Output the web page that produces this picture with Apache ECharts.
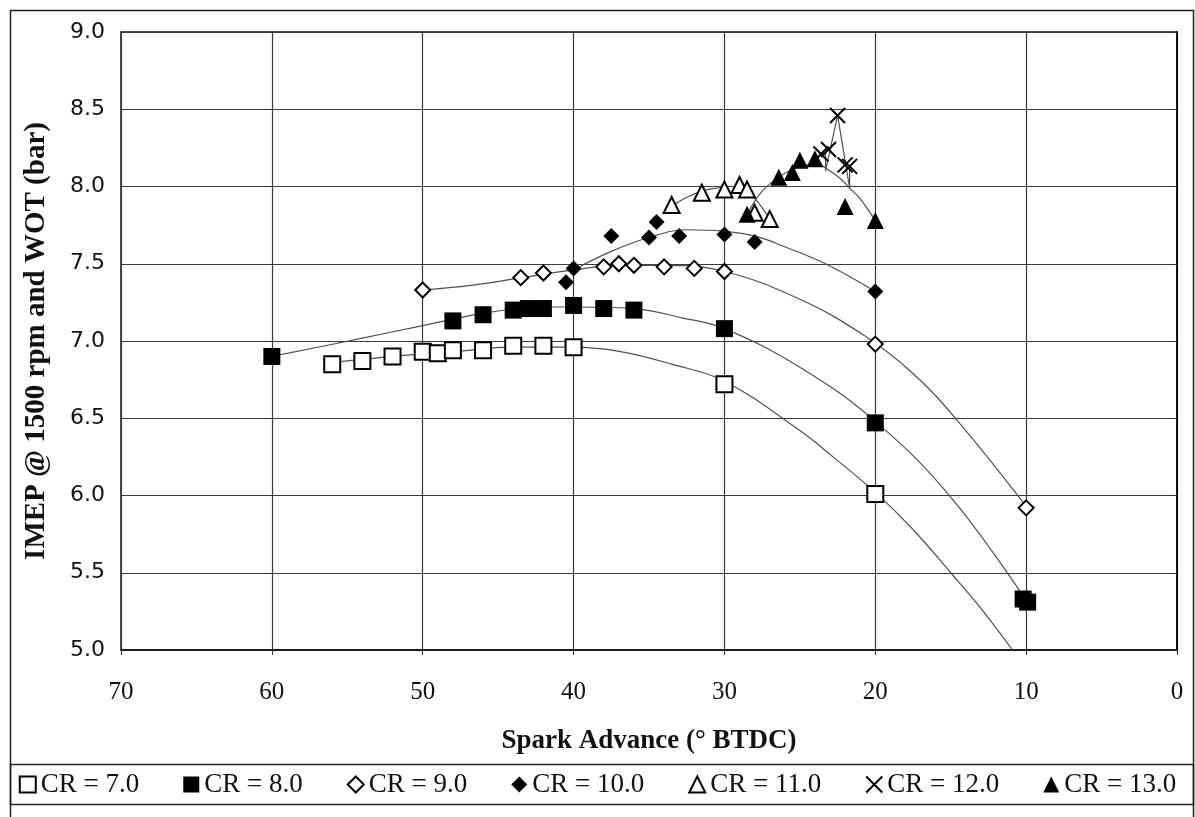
<!DOCTYPE html>
<html>
<head>
<meta charset="utf-8">
<title>IMEP vs Spark Advance</title>
<script src="https://cdn.jsdelivr.net/npm/echarts@6/dist/echarts.min.js"></script>
<style>
  html, body { margin: 0; padding: 0; background: #fff; }
  #chart { width: 1195px; height: 817px; }
</style>
</head>
<body>
<div id="chart"></div>
<script>
// ---- measured points (spark advance, IMEP) ----
var cr7X = [56, 54, 52, 50, 49, 48, 46, 44, 42, 40, 30, 20];
var cr7Y = [6.85, 6.87, 6.90, 6.93, 6.92, 6.94, 6.94, 6.97, 6.97, 6.96, 6.72, 6.01];

var cr8X = [60, 48, 46, 44, 43, 42, 40, 38, 36, 30, 20, 10.2, 9.9];
var cr8Y = [6.90, 7.13, 7.17, 7.20, 7.21, 7.21, 7.23, 7.21, 7.20, 7.08, 6.47, 5.33, 5.31];

var cr9X = [50, 43.5, 42, 38, 37, 36, 34, 32, 30, 20, 10];
var cr9Y = [7.33, 7.41, 7.44, 7.48, 7.50, 7.49, 7.48, 7.47, 7.45, 6.98, 5.92];

var cr10X = [40.5, 40, 37.5, 35, 34.5, 33, 30, 28, 20];
var cr10Y = [7.38, 7.47, 7.68, 7.67, 7.77, 7.68, 7.69, 7.64, 7.32];

var cr11X = [33.5, 31.5, 30, 29, 28.5, 28, 27];
var cr11Y = [7.88, 7.96, 7.98, 8.01, 7.98, 7.83, 7.79];

var cr12X = [23.6, 23.1, 22.5, 22.0, 21.7];
var cr12Y = [8.21, 8.24, 8.46, 8.14, 8.13];

var cr13X = [28.5, 26.4, 25.5, 25.0, 24.0, 22.0, 20.0];
var cr13Y = [7.82, 8.06, 8.09, 8.17, 8.18, 7.87, 7.78];

// ---- trend curves ----
var trend7X = [56, 52, 48, 44, 40, 36.8, 33.5, 30, 25, 22.8, 20, 17.5, 15, 13, 10.9];
var trend7Y = [6.86, 6.90, 6.93, 6.96, 6.96, 6.93, 6.85, 6.74, 6.42, 6.25, 6.02, 5.78, 5.50, 5.27, 5.0];

var trend8X = [60, 54.4, 50, 48, 46, 42, 40, 36, 32.8, 30, 25, 20, 15, 10];
var trend8Y = [6.90, 7.01, 7.10, 7.14, 7.18, 7.22, 7.22, 7.21, 7.15, 7.08, 6.83, 6.48, 5.99, 5.32];

var trend9X = [50, 46.8, 43.4, 40, 37, 34, 30, 25, 20.8, 17.5, 14.6, 10];
var trend9Y = [7.33, 7.36, 7.41, 7.46, 7.49, 7.49, 7.45, 7.27, 7.04, 6.79, 6.49, 5.93];

var trend10X = [40, 37.5, 35, 32.5, 30, 28, 26, 23.3, 20];
var trend10Y = [7.46, 7.58, 7.67, 7.72, 7.71, 7.68, 7.61, 7.50, 7.32];

var trend11X = [33.5, 32.5, 31.5, 30.5, 29.5, 28.5, 27.8, 27];
var trend11Y = [7.87, 7.93, 7.97, 7.99, 8.00, 7.97, 7.90, 7.79];

var trend12X = [23.6, 23.3, 23.3, 22.5, 21.7, 21.7];
var trend12Y = [8.21, 8.22, 8.10, 8.46, 7.99, 8.13];

var trend13X = [28.5, 27.5, 26.4, 25.5, 24.6, 23.8, 23.0, 22.3, 21.7, 21.0, 20.0];
var trend13Y = [7.82, 7.97, 8.06, 8.11, 8.14, 8.14, 8.10, 8.05, 7.99, 7.92, 7.78];

var crNames = ['CR = 7.0', 'CR = 8.0', 'CR = 9.0', 'CR = 10.0', 'CR = 11.0', 'CR = 12.0', 'CR = 13.0'];
var xTicks = [0, 10, 20, 30, 40, 50, 60, 70];
var yTicks = [5.0, 5.5, 6.0, 6.5, 7.0, 7.5, 8.0, 8.5, 9.0];

function pairs(xs, ys) {
	var out = [];
	for (var i = 0; i < xs.length; i++) out.push([xs[i], ys[i]]);
	return out;
}

var crossPath = 'path://M0,0L10,10M10,0L0,10';
var serif = '"Liberation Serif", "Times New Roman", serif';

function markSeries(name, xs, ys, symbol, size, filled) {
	var isCross = symbol === crossPath;
	return {
		name: name,
		type: 'scatter',
		data: pairs(xs, ys),
		symbol: symbol,
		symbolSize: size,
		z: 5,
		itemStyle: {
			color: isCross ? 'rgba(0,0,0,0)' : (filled ? '#000' : '#fff'),
			borderColor: '#000',
			borderWidth: filled ? 0 : 2,
			opacity: 1
		}
	};
}

function trendSeries(id, xs, ys, smooth) {
	return {
		name: id,
		type: 'line',
		data: pairs(xs, ys),
		showSymbol: false,
		symbol: 'none',
		smooth: smooth,
		silent: true,
		z: 2,
		lineStyle: { color: '#505050', width: 1.2 }
	};
}

var chart = echarts.init(document.getElementById('chart'));

var option = {
	backgroundColor: '#fff',
	animation: false,
	textStyle: { fontFamily: serif },
	grid: {
		left: 121, top: 32, right: 18, bottom: 167,
		show: true, borderColor: '#111', borderWidth: 1.5
	},
	xAxis: {
		type: 'value',
		min: xTicks[0], max: xTicks[xTicks.length - 1], interval: 10,
		inverse: true,
		name: 'Spark Advance (° BTDC)',
		nameLocation: 'middle',
		nameGap: 78,
		nameTextStyle: { fontFamily: serif, fontWeight: 'bold', fontSize: 27, color: '#111' },
		axisLine: { lineStyle: { color: '#111', width: 1.5 } },
		axisTick: { show: true, length: 5, lineStyle: { color: '#333' } },
		axisLabel: { fontFamily: serif, fontSize: 25, color: '#111', margin: 30 },
		splitLine: { show: true, lineStyle: { color: '#3a3a3a', width: 1.2 } }
	},
	yAxis: {
		type: 'value',
		min: yTicks[0], max: yTicks[yTicks.length - 1], interval: 0.5,
		name: 'IMEP @ 1500 rpm and WOT (bar)',
		nameLocation: 'middle',
		nameGap: 70,
		nameTextStyle: { fontFamily: serif, fontWeight: 'bold', fontSize: 29, color: '#111' },
		axisLine: { show: true, lineStyle: { color: '#111', width: 2 } },
		axisTick: { show: true, length: 7, lineStyle: { color: '#333' } },
		axisLabel: {
			fontFamily: '"DejaVu Sans", sans-serif', fontSize: 22, color: '#111', margin: 16,
			formatter: function (v) { return v.toFixed(1); }
		},
		splitLine: { show: true, lineStyle: { color: '#3a3a3a', width: 1.2 } }
	},
	legend: {
		data: crNames,
		left: 'center',
		top: 766,
		itemGap: 44,
		itemWidth: 16,
		itemHeight: 16,
		textStyle: { fontFamily: serif, fontSize: 27, color: '#111' }
	},
	graphic: [
		{ type: 'rect', left: 8, top: 8, shape: { width: 1183, height: 809 },
		  style: { fill: 'none', stroke: '#222', lineWidth: 1.5 }, silent: true },
		{ type: 'rect', left: 8, top: 762, shape: { width: 1183, height: 40 },
		  style: { fill: 'none', stroke: '#222', lineWidth: 1.5 }, silent: true }
	],
	series: [
		trendSeries('t7', trend7X, trend7Y, 0.4),
		trendSeries('t8', trend8X, trend8Y, 0.4),
		trendSeries('t9', trend9X, trend9Y, 0.4),
		trendSeries('t10', trend10X, trend10Y, 0.4),
		trendSeries('t11', trend11X, trend11Y, 0.4),
		trendSeries('t12', trend12X, trend12Y, false),
		trendSeries('t13', trend13X, trend13Y, 0.4),
		markSeries(crNames[0], cr7X, cr7Y, 'rect', 16, false),
		markSeries(crNames[1], cr8X, cr8Y, 'rect', 17, true),
		markSeries(crNames[2], cr9X, cr9Y, 'diamond', 15, false),
		markSeries(crNames[3], cr10X, cr10Y, 'diamond', 16, true),
		markSeries(crNames[4], cr11X, cr11Y, 'triangle', 16, false),
		markSeries(crNames[5], cr12X, cr12Y, crossPath, 15, false),
		markSeries(crNames[6], cr13X, cr13Y, 'triangle', 17, true)
	]
};

chart.setOption(option);
</script>
</body>
</html>
